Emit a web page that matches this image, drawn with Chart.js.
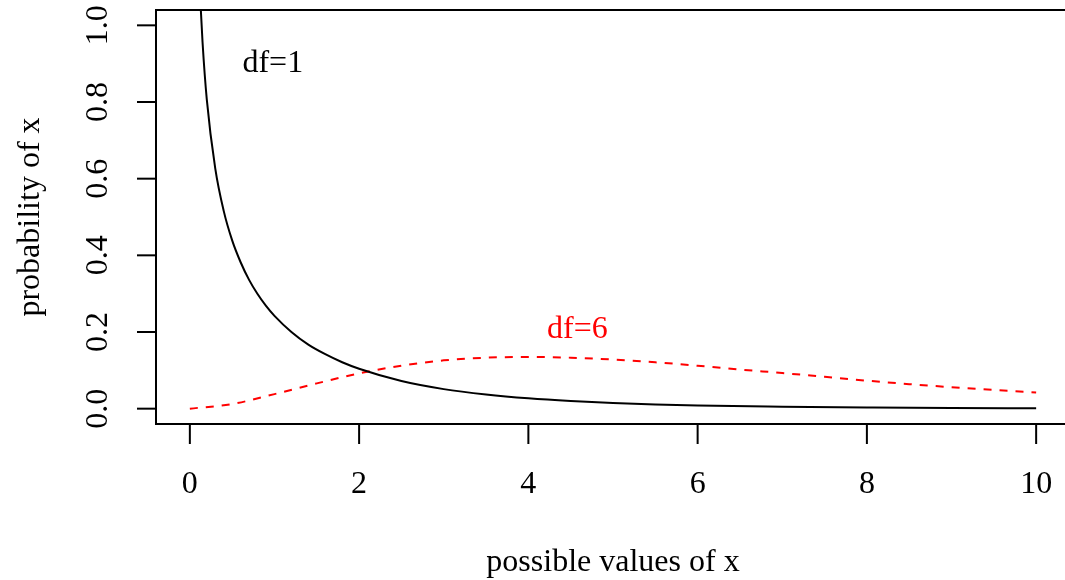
<!DOCTYPE html>
<html>
<head>
<meta charset="utf-8">
<script src="https://cdn.jsdelivr.net/npm/chart.js@4/dist/chart.umd.min.js"></script>
<style>
    html, body { margin: 0; padding: 0; overflow: hidden; background: #fff; }
    #wrap { width: 1072px; height: 580px; }
</style>
</head>
<body>
<div id="wrap"><canvas id="chisq" width="1072" height="580"></canvas></div>
<script>
// values
const xDf1 = [0.1, 0.125, 0.15, 0.2, 0.3, 0.4, 0.5, 0.6, 0.7, 0.8, 0.9, 1.0, 1.2, 1.4, 1.6, 1.8, 2.0, 2.5, 3.0, 3.5, 4.0, 4.5, 5.0, 5.5, 6.0, 7.0, 8.0, 9.0, 10.0];
const yDf1 = [1.200, 1.060, 0.956, 0.807, 0.627, 0.516, 0.439, 0.382, 0.336, 0.299, 0.268, 0.242, 0.200, 0.167, 0.142, 0.121, 0.104, 0.072, 0.051, 0.037, 0.027, 0.020, 0.015, 0.011, 0.008, 0.005, 0.003, 0.0015, 0.001];

const xDf6 = [0, 0.5, 1, 1.5, 2, 2.5, 3, 3.5, 4, 4.5, 5, 5.5, 6, 6.5, 7, 7.5, 8, 8.5, 9, 9.5, 10];
const yDf6 = [0, 0.012, 0.038, 0.066, 0.092, 0.112, 0.126, 0.133, 0.135, 0.133, 0.128, 0.121, 0.112, 0.102, 0.093, 0.083, 0.073, 0.064, 0.056, 0.049, 0.042];

const xTicks = [0, 2, 4, 6, 8, 10];
const yTicks = [0, 0.2, 0.4, 0.6, 0.8, 1.0];
const yTickLabels = ['0.0', '0.2', '0.4', '0.6', '0.8', '1.0'];

const labels = [
    {text: 'df=1', x: 0.98, y: 0.9, color: '#000000'},
    {text: 'df=6', x: 4.58, y: 0.207, color: '#ff0000'}
];

const font = '32px "Liberation Serif", "Times New Roman", serif';

function toPoints(xs, ys) {
    return xs.map((x, i) => ({x: x, y: ys[i]}));
}

// R style box, ticks and labels
const rAxes = {
    id: 'rAxes',
    afterDraw(chart) {
        const c = chart.ctx, a = chart.chartArea;
        const xs = chart.scales.x, ys = chart.scales.y;
        c.save();
        c.strokeStyle = '#000';
        c.fillStyle = '#000';
        c.lineWidth = 2;
        c.strokeRect(a.left, a.top, a.right - a.left, a.bottom - a.top);

        c.font = font;
        c.textAlign = 'center';
        c.textBaseline = 'middle';

        xTicks.forEach(v => {
            let px = xs.getPixelForValue(v);
            c.beginPath();
            c.moveTo(px, a.bottom);
            c.lineTo(px, a.bottom + 20);
            c.stroke();
            c.fillText(String(v), px, 485);
        });

        yTicks.forEach((v, i) => {
            let py = ys.getPixelForValue(v);
            c.beginPath();
            c.moveTo(a.left, py);
            c.lineTo(a.left - 19, py);
            c.stroke();
            c.save();
            c.translate(99, py);
            c.rotate(-Math.PI / 2);
            c.fillText(yTickLabels[i], 0, 0);
            c.restore();
        });

        c.fillText('possible values of x', (a.left + a.right) / 2, 563);
        c.save();
        c.translate(31, (a.top + a.bottom) / 2);
        c.rotate(-Math.PI / 2);
        c.fillText('probability of x', 0, 0);
        c.restore();

        labels.forEach(l => {
            c.fillStyle = l.color;
            c.fillText(l.text, xs.getPixelForValue(l.x), ys.getPixelForValue(l.y));
        });
        c.restore();
    }
};

new Chart(document.getElementById('chisq'), {
    type: 'scatter',
    data: {
        datasets: [
            {
                label: 'df=1',
                data: toPoints(xDf1, yDf1),
                showLine: true,
                borderColor: '#000000',
                borderWidth: 2,
                pointRadius: 0,
                cubicInterpolationMode: 'monotone',
                clip: 0
            },
            {
                label: 'df=6',
                data: toPoints(xDf6, yDf6),
                showLine: true,
                borderColor: '#ff0000',
                borderWidth: 2,
                borderDash: [8, 8],
                pointRadius: 0,
                cubicInterpolationMode: 'monotone',
                clip: 0
            }
        ]
    },
    options: {
        responsive: false,
        animation: false,
        layout: {
            padding: {left: 156, top: 10, right: 2, bottom: 156}
        },
        plugins: {
            legend: {display: false},
            tooltip: {enabled: false}
        },
        scales: {
            x: {type: 'linear', min: -0.4, max: 10.4, display: false},
            y: {type: 'linear', min: -0.04, max: 1.04, display: false}
        }
    },
    plugins: [rAxes]
});
</script>
</body>
</html>
